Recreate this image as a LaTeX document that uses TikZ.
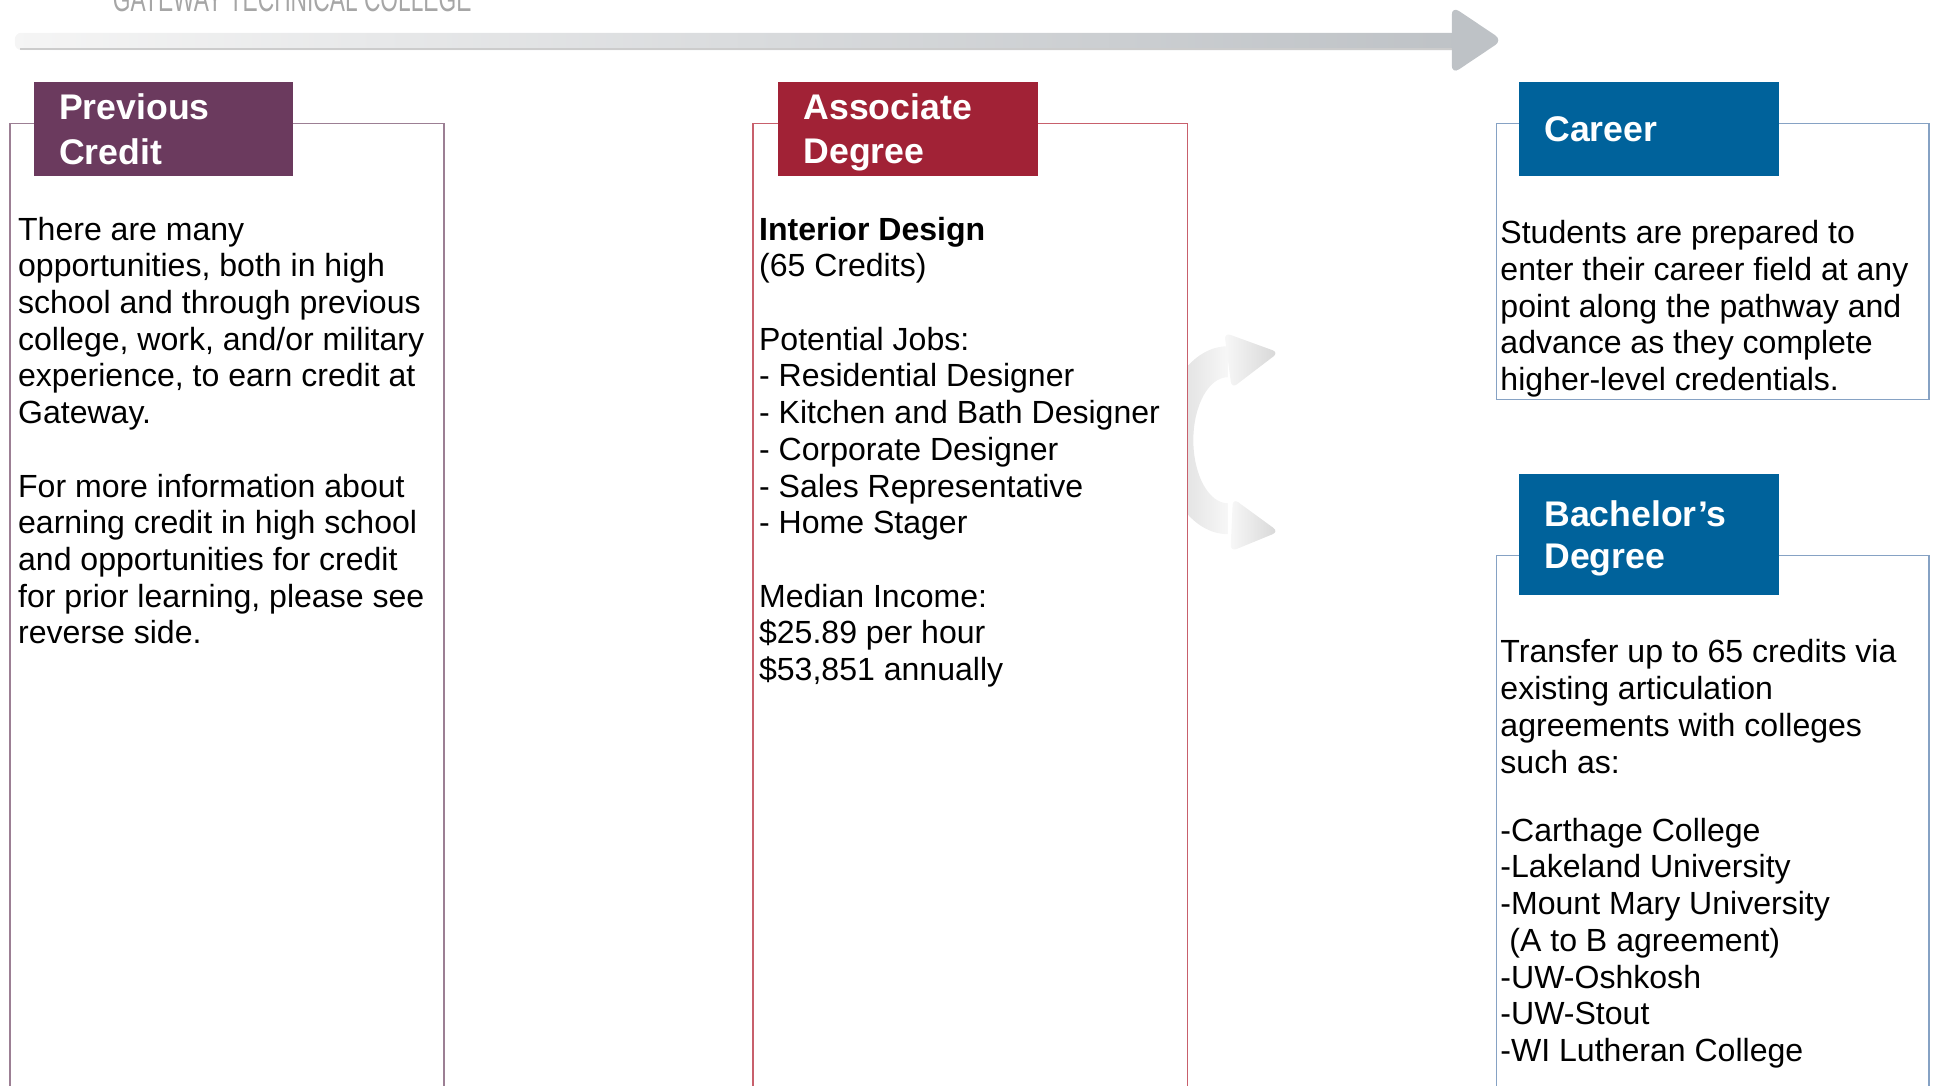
\documentclass[tikz,border=0pt]{standalone}
\usepackage{fontspec}
\setmainfont{Liberation Sans}
\usepackage{tikz}
\usetikzlibrary{positioning}
\definecolor{gtcpurple}{HTML}{6B3A5E}
\definecolor{gtcred}{HTML}{A12236}
\definecolor{gtcblue}{HTML}{00629B}
\definecolor{framepurple}{HTML}{9C7F94}
\definecolor{framered}{HTML}{C8606C}
\definecolor{frameblue}{HTML}{86A2C4}
\definecolor{arrowgray}{HTML}{BEC2C6}
\newcommand{\headlift}{\rule{0pt}{15.1pt}}
\tikzset{% customization of the pathway boxes
        headbox/.style={anchor=north west, inner xsep=0.41cm, inner ysep=0pt,
          minimum width=4.2cm, minimum height=1.52cm, text width=3.38cm,
          align=left, text=white, font=\fontsize{16.4pt}{20.5pt}\selectfont\bfseries},
        bodytext/.style={anchor=north west, inner sep=0pt, align=left,
          font=\fontsize{14.75pt}{16.9pt}\selectfont},
        colframe/.style={line width=0.6pt}
        }

\begin{document}
\begin{tikzpicture}[x=0.02cm, y=-0.02cm]
\useasboundingbox (0,0) rectangle (1568,878);
\clip (0,0) rectangle (1568,878);
\node [anchor=base west, inner sep=0pt, text=gray!70] (college) at (91,9.4) {\resizebox{5.8cm}{0.4cm}{GATEWAY TECHNICAL COLLEGE}};
\shade [left color=gray!8, right color=arrowgray, rounded corners=3pt] (12,26.5) rectangle (1185,40.5);
\draw [gray!40, line width=1pt] (16,39.8) -- (1180,39.8);
\fill [arrowgray, rounded corners=4pt] (1174,5) -- (1215,32.5) -- (1174,60) -- cycle;

\draw [colframe, framepurple] (8,100) rectangle (359,900);
\draw [colframe, framered] (609,100) rectangle (960,900);
\draw [colframe, frameblue] (1210,100) rectangle (1560,323);
\draw [colframe, frameblue] (1210,449) rectangle (1560,900);

\node [headbox, fill=gtcpurple] (prevhead) at (27,66) {Previous\\Credit};
\node [headbox, fill=gtcred] (assochead) at (629,66) {\headlift Associate\\Degree};
\node [headbox, fill=gtcblue] (careerhead) at (1228,66) {Career};
\node [headbox, fill=gtcblue, minimum height=1.96cm] (bachhead) at (1228,383) {\headlift Bachelor’s\\[-1.1pt]Degree};

\node [bodytext] (prevtext) at (14.3,175) {There are many\\opportunities, both in high\\school and through previous\\college, work, and/or military\\experience, to earn credit at\\Gateway.\\[16.9pt]For more information about\\earning credit in high school\\and opportunities for credit\\for prior learning, please see\\reverse side.};
\node [bodytext] (assoctext) at (613.5,175) {\textbf{Interior Design}\\(65 Credits)\\[16.9pt]Potential Jobs:\\- Residential Designer\\- Kitchen and Bath Designer\\- Corporate Designer\\- Sales Representative\\- Home Stager\\[16.9pt]Median Income:\\\$25.89 per hour\\\$53,851 annually};
\node [bodytext] (careertext) at (1213,178) {Students are prepared to\\enter their career field at any\\point along the pathway and\\advance as they complete\\higher-level credentials.};
\node [bodytext] (bachtext) at (1213,517) {Transfer up to 65 credits via\\existing articulation\\agreements with colleges\\such as:\\[14.4pt]-Carthage College\\-Lakeland University\\-Mount Mary University\\\hspace*{0.28em}(A to B agreement)\\-UW-Oshkosh\\-UW-Stout\\-WI Lutheran College};

\begin{scope}
\clip (961,250) rectangle (1060,470);
\shade [left color=gray!30, right color=gray!6] (993,280) arc [start angle=90, end angle=270, x radius=1.06cm, y radius=1.52cm] -- (993,407) arc [start angle=270, end angle=90, x radius=0.56cm, y radius=1.02cm] -- cycle;
\shade [left color=gray!6, right color=gray!32, rounded corners=3pt] (990,269) -- (1034,285) -- (996,314) -- cycle;
\shade [left color=gray!6, right color=gray!32, rounded corners=3pt] (997,403) -- (1034,430) -- (995,446) -- cycle;
\end{scope}
\end{tikzpicture}
\end{document}
